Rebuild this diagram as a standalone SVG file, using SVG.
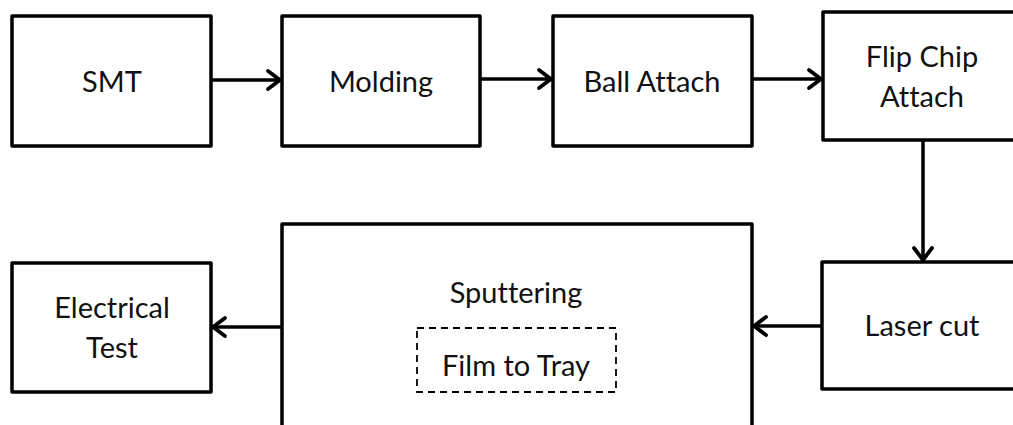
<svg xmlns="http://www.w3.org/2000/svg" width="1013" height="425" viewBox="0 0 1013 425">
  <style>
    .box { fill: #ffffff; stroke: #000000; stroke-width: 3.5; stroke-linejoin: round; }
    .dash { fill: none; stroke: #000000; stroke-width: 1.8; stroke-dasharray: 7 5; }
    .lbl { font-family: Lato, "Liberation Sans", sans-serif; font-size: 29px; fill: #111111; text-anchor: middle; font-variant-ligatures: none; }
    .edge { fill: none; stroke: #000000; stroke-width: 3.5; }
  </style>
  <defs>
    <marker id="head" viewBox="0 0 18 24" refX="15" refY="12" markerWidth="18" markerHeight="24" markerUnits="userSpaceOnUse" orient="auto">
      <path d="M 3 3 L 15 12 L 3 21" fill="none" stroke="#000000" stroke-width="3.8" stroke-linecap="round" stroke-linejoin="round"/>
    </marker>
  </defs>

  <g id="connectors">
    <line class="edge" x1="211" y1="80" x2="280" y2="80" marker-end="url(#head)"/>
    <line class="edge" x1="480" y1="79" x2="551" y2="79" marker-end="url(#head)"/>
    <line class="edge" x1="752" y1="79" x2="821" y2="79" marker-end="url(#head)"/>
    <line class="edge" x1="923" y1="140" x2="923" y2="260" marker-end="url(#head)"/>
    <line class="edge" x1="822" y1="326" x2="754" y2="326" marker-end="url(#head)"/>
    <line class="edge" x1="282" y1="327" x2="213" y2="327" marker-end="url(#head)"/>
  </g>

  <g id="smt">
    <rect class="box" x="12" y="16" width="199" height="130"/>
    <text class="lbl" x="112" y="92">SMT</text>
  </g>

  <g id="molding">
    <rect class="box" x="282" y="16" width="198" height="130"/>
    <text class="lbl" x="381" y="92">Molding</text>
  </g>

  <g id="ball-attach">
    <rect class="box" x="553" y="16" width="199" height="130"/>
    <text class="lbl" x="652" y="92">Ball Attach</text>
  </g>

  <g id="flip-chip-attach">
    <rect class="box" x="823" y="12" width="200" height="128"/>
    <text class="lbl" x="922" y="67">Flip Chip</text>
    <text class="lbl" x="922" y="107">Attach</text>
  </g>

  <g id="laser-cut">
    <rect class="box" x="822" y="262" width="200" height="127"/>
    <text class="lbl" x="922" y="336">Laser cut</text>
  </g>

  <g id="sputtering">
    <rect class="box" x="282" y="224" width="470" height="220"/>
    <text class="lbl" x="516" y="303">Sputtering</text>
    <rect class="dash" x="417" y="328" width="199" height="64"/>
    <text class="lbl" x="516" y="376">Film to Tray</text>
  </g>

  <g id="electrical-test">
    <rect class="box" x="12" y="263" width="199" height="129"/>
    <text class="lbl" x="112" y="318">Electrical</text>
    <text class="lbl" x="112" y="358">Test</text>
  </g>
</svg>
